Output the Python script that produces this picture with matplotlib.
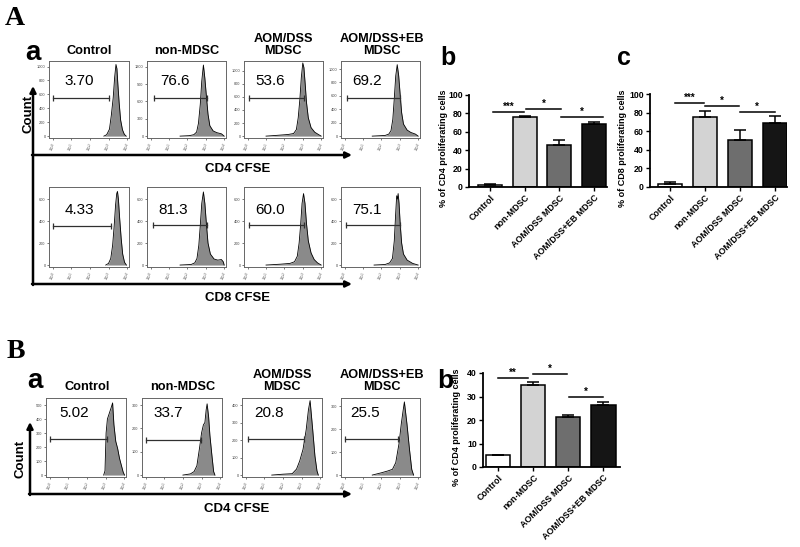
import matplotlib
matplotlib.use('Agg')
import matplotlib.pyplot as plt
import numpy as np

plt.rcParams['font.family'] = ['Liberation Sans', 'DejaVu Sans']

W, H = 800, 547
fig = plt.figure(figsize=(8, 5.47), dpi=100)


def box(x0, y0, x1, y1):
    return [x0 / W, 1 - y1 / H, (x1 - x0) / W, (y1 - y0) / H]


# ---------------- data ----------------
groups = ['Control', 'non-MDSC', 'AOM/DSS MDSC', 'AOM/DSS+EB MDSC']
hist_titles = ['Control', 'non-MDSC', 'AOM/DSS\nMDSC', 'AOM/DSS+EB\nMDSC']

# Panel A, CD4 CFSE histograms
A4_pct = ['3.70', '76.6', '53.6', '69.2']
A4_x = [[2.75, 2.9, 3.05, 3.15, 3.25, 3.33, 3.4, 3.45, 3.5, 3.57, 3.65, 3.75, 3.85, 3.95],
        [1.6, 2.1, 2.35, 2.5, 2.6, 2.7, 2.78, 2.87, 2.95, 3.03, 3.12, 3.22, 3.4, 3.6, 3.85, 4.0],
        [1.0, 1.6, 2.2, 2.5, 2.65, 2.75, 2.84, 2.92, 3.0, 3.06, 3.13, 3.2, 3.3, 3.45, 3.65, 3.85, 4.0],
        [1.5, 2.2, 2.4, 2.52, 2.62, 2.7, 2.78, 2.86, 2.94, 3.02, 3.1, 3.2, 3.4, 3.6, 3.85, 4.0]]
A4_y = [[0, 20, 100, 300, 550, 850, 1030, 970, 750, 480, 230, 90, 25, 0],
        [0, 8, 25, 70, 220, 550, 950, 1230, 1000, 700, 380, 180, 90, 60, 40, 0],
        [0, 12, 25, 40, 100, 280, 560, 900, 1120, 1050, 800, 520, 280, 130, 60, 25, 0],
        [0, 10, 30, 80, 250, 560, 900, 1065, 900, 620, 350, 180, 90, 55, 30, 0]]
A4_gate = [(0.0, 3.05, 548), (0.18, 3.05, 655), (0.05, 3.08, 590), (0.1, 3.0, 575)]
A4_yticks = [[0, 200, 400, 600, 800, 1000], [0, 300, 600, 900, 1200],
             [0, 200, 400, 600, 800, 1000], [0, 200, 400, 600, 800, 1000]]
A4_ytop = [1080, 1300, 1150, 1120]

# Panel A, CD8 CFSE histograms
A8_pct = ['4.33', '81.3', '60.0', '75.1']
A8_x = [[2.85, 3.0, 3.12, 3.22, 3.3, 3.38, 3.44, 3.48, 3.53, 3.6, 3.68, 3.76, 3.86, 3.96],
        [1.6, 2.2, 2.4, 2.52, 2.62, 2.7, 2.78, 2.87, 2.95, 3.03, 3.12, 3.25, 3.45, 3.65, 3.85, 3.95, 4.0],
        [1.0, 1.8, 2.3, 2.55, 2.7, 2.8, 2.88, 2.96, 3.04, 3.12, 3.2, 3.3, 3.45, 3.62, 3.8, 4.0],
        [1.6, 2.2, 2.45, 2.6, 2.7, 2.77, 2.83, 2.87, 2.91, 2.96, 3.02, 3.1, 3.2, 3.4, 3.7, 4.0]]
A8_y = [[0, 15, 60, 180, 350, 550, 650, 670, 600, 420, 240, 100, 25, 0],
        [0, 5, 20, 60, 180, 360, 560, 665, 560, 380, 200, 100, 55, 45, 50, 30, 0],
        [0, 8, 15, 30, 80, 200, 360, 560, 650, 560, 380, 220, 110, 50, 20, 0],
        [0, 5, 20, 60, 220, 450, 630, 600, 650, 560, 380, 200, 100, 45, 15, 0]]
A8_gate = [(0.0, 3.15, 354), (0.1, 3.05, 360), (0.05, 3.08, 360), (0.05, 3.0, 360)]
A8_yticks = [[0, 200, 400, 600]] * 4
A8_ytop = [710, 710, 710, 710]

# Panel B, CD4 CFSE histograms
B4_pct = ['5.02', '33.7', '20.8', '25.5']
B4_x = [[2.9, 2.97, 3.03, 3.1, 3.2, 3.3, 3.38, 3.45, 3.55, 3.65, 3.75, 3.85, 3.95, 4.02],
        [2.0, 2.4, 2.6, 2.75, 2.9, 3.0, 3.1, 3.18, 3.25, 3.3, 3.38, 3.45, 3.55, 3.65, 3.72],
        [1.4, 2.0, 2.5, 2.73, 2.9, 3.08, 3.25, 3.37, 3.46, 3.6, 3.72, 3.83, 3.9],
        [1.5, 2.0, 2.35, 2.6, 2.78, 2.96, 3.08, 3.18, 3.25, 3.39, 3.53, 3.65, 3.75]]
B4_y = [[0, 30, 300, 400, 440, 480, 515, 360, 240, 190, 120, 70, 20, 0],
        [0, 5, 15, 40, 120, 180, 215, 225, 280, 305, 250, 170, 90, 15, 0],
        [0, 5, 8, 34, 80, 147, 259, 372, 425, 259, 109, 24, 0],
        [0, 10, 18, 25, 54, 138, 222, 280, 318, 222, 110, 25, 0]]
B4_gate = [(0.0, 3.07, 258), (0.0, 2.98, 152), (0.1, 3.15, 207), (0.0, 2.9, 155)]
B4_yticks = [[0, 100, 200, 300, 400, 500], [0, 100, 200, 300],
             [0, 100, 200, 300, 400], [0, 100, 200, 300]]
B4_ytop = [550, 330, 440, 335]

# bar charts
bar_colors = ['white', '#d3d3d3', '#6e6e6e', '#151515']
A_cd4_mean = [2.5, 76.0, 45.5, 69.0]
A_cd4_err = [1.0, 1.5, 6.0, 2.0]
A_cd8_mean = [3.2, 75.0, 50.5, 69.0]
A_cd8_err = [1.8, 7.0, 11.0, 7.0]
B_cd4_mean = [5.0, 34.7, 21.3, 26.2]
B_cd4_err = [0.3, 1.6, 0.9, 1.3]
A_cd4_sig = [(0.09, 0.98, 81.5, '***'), (1.04, 2.05, 85.0, '*'), (2.05, 3.26, 76.0, '*')]
A_cd8_sig = [(0.14, 0.97, 90.0, '***'), (1.0, 1.98, 87.0, '*'), (2.0, 3.0, 81.0, '*')]
B_cd4_sig = [(-0.01, 0.86, 37.9, '**'), (0.99, 1.97, 39.6, '*'), (2.02, 2.99, 29.7, '*')]

# ---------------- histograms ----------------
A_row_x = [(49, 129), (147, 226), (244, 323), (341, 420)]
B_row_x = [(46, 126), (142, 222), (242, 322), (341, 420)]


def hist_panel(xr, yr, xs, ys, gate, pct, pct_x, pct_fy, yticks, ytop):
    ax = fig.add_axes(box(xr[0], yr[0], xr[1], yr[1]))
    ax.fill_between(xs, ys, 0, color='#8a8a8a', lw=0, zorder=2)
    ax.plot(xs, ys, color='black', lw=0.6, zorder=3)
    g0, g1, gy = gate
    ax.plot([g0, g1], [gy, gy], color='#303030', lw=0.9, marker='|', ms=4, mew=0.9, zorder=4)
    ax.text(pct_x, pct_fy * ytop, pct, fontsize=11, ha='center', va='center', zorder=5)
    ax.set_xlim(-0.2, 4.1)
    ax.set_ylim(-ytop * 0.025, ytop)
    ax.set_xticks([0, 1, 2, 3, 4])
    ax.set_xticklabels([r'$10^{%d}$' % i for i in range(5)], fontsize=3, rotation=60)
    ax.set_yticks(yticks)
    ax.set_yticklabels([str(t) for t in yticks], fontsize=2.8)
    ax.tick_params(length=1.5, width=0.5, pad=1, colors='#444444')
    for s in ax.spines.values():
        s.set_color('#666666')
        s.set_linewidth(0.7)
    return ax


A4_lab_x = [1.45, 1.3, 1.2, 1.2]
for i in range(4):
    hist_panel(A_row_x[i], (61, 138), A4_x[i], A4_y[i], A4_gate[i], A4_pct[i],
               A4_lab_x[i], 0.74, A4_yticks[i], A4_ytop[i])
A8_lab_x = [1.45, 1.2, 1.2, 1.2]
for i in range(4):
    hist_panel(A_row_x[i], (187, 267), A8_x[i], A8_y[i], A8_gate[i], A8_pct[i],
               A8_lab_x[i], 0.70, A8_yticks[i], A8_ytop[i])
B4_lab_x = [1.33, 1.2, 1.25, 1.13]
for i in range(4):
    hist_panel(B_row_x[i], (398, 477), B4_x[i], B4_y[i], B4_gate[i], B4_pct[i],
               B4_lab_x[i], 0.80, B4_yticks[i], B4_ytop[i])


# ---------------- bar charts ----------------
def bar_panel(rect, means, errs, ylim, yticks, xlim, ylabel, sigs, label_x):
    ax = fig.add_axes(box(*rect))
    x = np.arange(len(groups))
    ax.bar(x, means, width=0.69, color=bar_colors, edgecolor='black', linewidth=1.1, zorder=2)
    ax.errorbar(x, means, yerr=[np.zeros(len(errs)), errs], fmt='none', ecolor='black',
                elinewidth=1.1, capsize=4, capthick=1.1, zorder=3)
    for x0, x1, y, lab in sigs:
        ax.plot([x0, x1], [y, y], color='black', lw=1.1, clip_on=False)
        ax.text((x0 + x1) / 2, y, lab, ha='center', va='bottom', fontsize=7, fontweight='bold')
    ax.set_xlim(*xlim)
    ax.set_ylim(*ylim)
    ax.set_yticks(yticks)
    ax.set_yticklabels([str(t) for t in yticks], fontsize=6.3, fontweight='bold')
    ax.set_xticks(x)
    ax.set_xticklabels(groups, rotation=45, ha='right', rotation_mode='anchor',
                       fontsize=6.4, fontweight='bold')
    ax.tick_params(direction='out', length=3, width=1, pad=1.5)
    for s in ['top', 'right']:
        ax.spines[s].set_visible(False)
    for s in ['left', 'bottom']:
        ax.spines[s].set_linewidth(1.3)
    ax.set_ylabel(ylabel, fontsize=6.5, fontweight='bold')
    ax.yaxis.set_label_coords(label_x, 0.42)
    return ax


bar_panel((469, 95, 607, 187), A_cd4_mean, A_cd4_err, (0, 100), [0, 20, 40, 60, 80, 100],
          (-0.6, 3.37), '% of CD4 proliferating cells', A_cd4_sig, -0.15)
bar_panel((650, 94, 787, 187), A_cd8_mean, A_cd8_err, (0, 100), [0, 20, 40, 60, 80, 100],
          (-0.57, 3.35), '% of CD8 proliferating cells', A_cd8_sig, -0.165)
bar_panel((483, 373, 620, 467), B_cd4_mean, B_cd4_err, (0, 40), [0, 10, 20, 30, 40],
          (-0.43, 3.47), '% of CD4 proliferating cells', B_cd4_sig, -0.16)

# ---------------- overlay: labels and arrows ----------------
ov = fig.add_axes([0, 0, 1, 1])
ov.set_xlim(0, W)
ov.set_ylim(H, 0)
ov.axis('off')

ov.text(5, 25, 'A', fontsize=20, fontweight='bold', family='Liberation Serif', va='baseline')
ov.text(7, 358, 'B', fontsize=20, fontweight='bold', family='Liberation Serif', va='baseline')
ov.text(25, 60, 'a', fontsize=20, fontweight='bold', va='baseline')
ov.text(27, 388, 'a', fontsize=20, fontweight='bold', va='baseline')
ov.text(440, 65, 'b', fontsize=18, fontweight='bold', va='baseline')
ov.text(617, 65, 'c', fontsize=18, fontweight='bold', va='baseline')
ov.text(437, 388, 'b', fontsize=19, fontweight='bold', va='baseline')

A_title_x = [89, 187, 283, 382]
B_title_x = [87, 183, 282, 382]
for i in range(4):
    ov.text(A_title_x[i], 57, hist_titles[i], ha='center', va='bottom', fontsize=9.2,
            fontweight='bold', linespacing=1.05)
    ov.text(B_title_x[i], 393, hist_titles[i], ha='center', va='bottom', fontsize=9.2,
            fontweight='bold', linespacing=1.05)

ov.text(28, 114, 'Count', rotation=90, ha='center', va='center', fontsize=9.5, fontweight='bold')
ov.text(21, 459, 'Count', rotation=90, ha='center', va='center', fontsize=9.5, fontweight='bold')
ov.text(238, 169, 'CD4 CFSE', ha='center', va='center', fontsize=9.5, fontweight='bold')
ov.text(238, 298, 'CD8 CFSE', ha='center', va='center', fontsize=9.5, fontweight='bold')
ov.text(237, 509, 'CD4 CFSE', ha='center', va='center', fontsize=9.5, fontweight='bold')

arrow = dict(arrowstyle='-|>', lw=1.8, color='black', mutation_scale=9, shrinkA=0, shrinkB=0)
ov.annotate('', xy=(33, 86), xytext=(33, 285), arrowprops=arrow)
ov.annotate('', xy=(352, 155), xytext=(32, 155), arrowprops=arrow)
ov.annotate('', xy=(352, 284), xytext=(32, 284), arrowprops=arrow)
ov.annotate('', xy=(30, 422), xytext=(30, 495), arrowprops=arrow)
ov.annotate('', xy=(352, 494), xytext=(29, 494), arrowprops=arrow)

fig.savefig('out.png', dpi=100, facecolor='white')
